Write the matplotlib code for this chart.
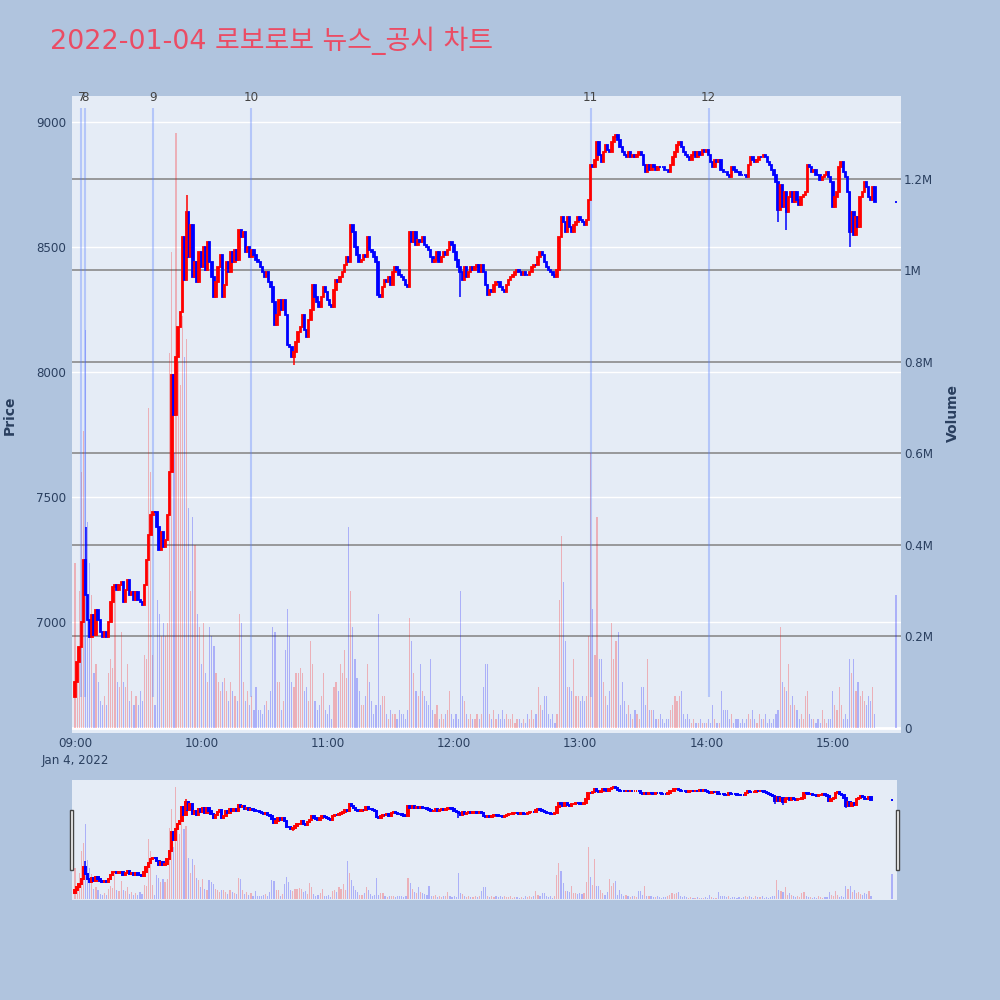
import numpy as np
import matplotlib
matplotlib.use('Agg')
import matplotlib.pyplot as plt
from matplotlib.patches import Rectangle

plt.rcParams['font.family'] = ['DejaVu Sans', 'Noto Sans CJK KR']

title = '2022-01-04 로보로보 뉴스_공시 차트'

# 1분봉 종가 (09:00 부터)
first_open = 6700
close_price = [
    6760, 6840, 6900, 7000, 7250, 7110, 7010, 6940, 7030, 6950,
    7050, 7010, 6960, 6940, 6960, 6940, 7000, 7080, 7140, 7150,
    7130, 7150, 7160, 7080, 7130, 7170, 7110, 7120, 7090, 7120,
    7090, 7080, 7070, 7150, 7250, 7350, 7430, 7440, 7440, 7380,
    7290, 7360, 7300, 7330, 7430, 7600, 7990, 7830, 8060, 8180,
    8240, 8540, 8370, 8640, 8460, 8590, 8380, 8440, 8360, 8480,
    8420, 8500, 8410, 8520, 8440, 8380, 8300, 8360, 8420, 8470,
    8300, 8350, 8440, 8400, 8480, 8440, 8490, 8450, 8570, 8540,
    8560, 8480, 8500, 8460, 8490, 8470, 8450, 8440, 8420, 8400,
    8380, 8400, 8360, 8340, 8280, 8190, 8230, 8290, 8250, 8290,
    8230, 8110, 8100, 8060, 8080, 8120, 8160, 8180, 8230, 8170,
    8140, 8210, 8250, 8350, 8300, 8280, 8260, 8300, 8340, 8320,
    8290, 8270, 8260, 8330, 8370, 8360, 8380, 8400, 8430, 8460,
    8440, 8590, 8560, 8500, 8470, 8440, 8450, 8470, 8460, 8540,
    8490, 8480, 8460, 8440, 8310, 8300, 8340, 8370, 8360, 8380,
    8350, 8400, 8420, 8410, 8390, 8380, 8370, 8350, 8340, 8560,
    8520, 8560, 8510, 8530, 8520, 8540, 8510, 8500, 8490, 8460,
    8440, 8450, 8480, 8440, 8460, 8480, 8470, 8490, 8520, 8510,
    8480, 8450, 8420, 8400, 8370, 8420, 8380, 8400, 8420, 8410,
    8420, 8430, 8400, 8430, 8400, 8350, 8310, 8330, 8320, 8350,
    8360, 8360, 8340, 8330, 8320, 8350, 8370, 8380, 8390, 8400,
    8410, 8400, 8390, 8400, 8390, 8390, 8400, 8420, 8430, 8430,
    8460, 8480, 8470, 8440, 8420, 8410, 8400, 8390, 8380, 8410,
    8540, 8620, 8600, 8560, 8620, 8580, 8560, 8590, 8600, 8620,
    8610, 8600, 8590, 8610, 8690, 8830, 8820, 8850, 8920, 8870,
    8840, 8880, 8910, 8890, 8880, 8920, 8940, 8950, 8930, 8900,
    8880, 8870, 8860, 8880, 8860, 8870, 8860, 8870, 8880, 8870,
    8830, 8800, 8830, 8810, 8830, 8820, 8810, 8820, 8820, 8820,
    8810, 8810, 8800, 8830, 8860, 8880, 8910, 8920, 8900, 8880,
    8870, 8860, 8850, 8870, 8880, 8860, 8880, 8870, 8890, 8880,
    8890, 8870, 8840, 8820, 8850, 8840, 8850, 8810, 8800, 8800,
    8790, 8780, 8820, 8810, 8800, 8800, 8790, 8790, 8790, 8780,
    8830, 8860, 8850, 8840, 8850, 8860, 8860, 8870, 8860, 8840,
    8830, 8810, 8790, 8760, 8650, 8750, 8660, 8720, 8640, 8700,
    8720, 8680, 8720, 8690, 8670, 8700, 8710, 8720, 8830, 8820,
    8800, 8810, 8790, 8790, 8770, 8780, 8790, 8800, 8780, 8760,
    8660, 8700, 8720, 8820, 8840, 8800, 8780, 8720, 8560, 8640,
    8550, 8620, 8580, 8700, 8720, 8760, 8740, 8700, 8690, 8740,
    8680,
]

# 거래량 (백만주)
volume_m = [
    0.36, 0.17, 0.30, 0.56, 0.65, 0.87, 0.45, 0.36, 0.29, 0.12,
    0.14, 0.10, 0.06, 0.05, 0.07, 0.05, 0.12, 0.15, 0.13, 0.30,
    0.10, 0.09, 0.21, 0.10, 0.09, 0.14, 0.06, 0.08, 0.05, 0.07,
    0.05, 0.08, 0.06, 0.16, 0.15, 0.70, 0.56, 0.16, 0.05, 0.28,
    0.25, 0.20, 0.23, 0.20, 0.23, 0.82, 1.04, 0.60, 1.30, 0.80,
    0.75, 0.90, 0.81, 0.85, 0.48, 0.30, 0.46, 0.40, 0.25, 0.22,
    0.14, 0.23, 0.12, 0.10, 0.22, 0.20, 0.18, 0.12, 0.10, 0.08,
    0.10, 0.11, 0.08, 0.06, 0.10, 0.08, 0.07, 0.06, 0.25, 0.23,
    0.10, 0.06, 0.08, 0.05, 0.07, 0.04, 0.09, 0.04, 0.04, 0.03,
    0.05, 0.06, 0.04, 0.08, 0.22, 0.21, 0.10, 0.10, 0.04, 0.06,
    0.17, 0.26, 0.20, 0.10, 0.09, 0.12, 0.12, 0.13, 0.12, 0.08,
    0.09, 0.06, 0.19, 0.14, 0.06, 0.04, 0.05, 0.07, 0.12, 0.04,
    0.03, 0.05, 0.02, 0.09, 0.10, 0.08, 0.14, 0.12, 0.17, 0.11,
    0.44, 0.30, 0.22, 0.15, 0.11, 0.08, 0.05, 0.05, 0.07, 0.14,
    0.10, 0.06, 0.03, 0.05, 0.25, 0.05, 0.07, 0.07, 0.03, 0.02,
    0.04, 0.03, 0.03, 0.02, 0.04, 0.03, 0.03, 0.02, 0.04, 0.24,
    0.19, 0.12, 0.08, 0.07, 0.14, 0.08, 0.07, 0.06, 0.05, 0.15,
    0.04, 0.03, 0.05, 0.02, 0.03, 0.02, 0.03, 0.04, 0.08, 0.03,
    0.02, 0.03, 0.02, 0.30, 0.07, 0.06, 0.03, 0.02, 0.03, 0.02,
    0.02, 0.03, 0.02, 0.03, 0.09, 0.14, 0.14, 0.03, 0.02, 0.04,
    0.02, 0.03, 0.02, 0.04, 0.02, 0.03, 0.02, 0.02, 0.03, 0.01,
    0.02, 0.02, 0.01, 0.02, 0.01, 0.03, 0.02, 0.04, 0.02, 0.03,
    0.09, 0.05, 0.04, 0.07, 0.07, 0.03, 0.02, 0.03, 0.01, 0.03,
    0.28, 0.42, 0.32, 0.19, 0.09, 0.09, 0.08, 0.15, 0.07, 0.07,
    0.06, 0.07, 0.06, 0.07, 0.20, 0.60, 0.26, 0.16, 0.46, 0.15,
    0.15, 0.10, 0.07, 0.05, 0.08, 0.23, 0.15, 0.19, 0.21, 0.05,
    0.10, 0.06, 0.03, 0.05, 0.03, 0.02, 0.04, 0.03, 0.02, 0.09,
    0.09, 0.05, 0.15, 0.04, 0.04, 0.04, 0.02, 0.02, 0.03, 0.02,
    0.01, 0.02, 0.02, 0.04, 0.05, 0.07, 0.06, 0.07, 0.08, 0.03,
    0.02, 0.03, 0.02, 0.01, 0.02, 0.01, 0.01, 0.02, 0.01, 0.01,
    0.01, 0.02, 0.01, 0.05, 0.02, 0.01, 0.01, 0.08, 0.04, 0.04,
    0.04, 0.02, 0.03, 0.01, 0.02, 0.02, 0.01, 0.02, 0.01, 0.02,
    0.03, 0.02, 0.04, 0.02, 0.01, 0.03, 0.02, 0.02, 0.03, 0.01,
    0.02, 0.01, 0.02, 0.03, 0.04, 0.22, 0.10, 0.09, 0.08, 0.14,
    0.05, 0.07, 0.05, 0.04, 0.02, 0.03, 0.02, 0.07, 0.08, 0.03,
    0.02, 0.02, 0.01, 0.02, 0.01, 0.04, 0.02, 0.01, 0.02, 0.02,
    0.08, 0.05, 0.04, 0.09, 0.05, 0.02, 0.03, 0.02, 0.15, 0.12,
    0.15, 0.08, 0.10, 0.07, 0.08, 0.06, 0.05, 0.07, 0.06, 0.09,
    0.03,
]

# 15:30 동시호가
auction_minute = 390
auction_price = 8680
auction_volume = 0.29

# 눈에 띄는 꼬리
wick_minute = [5, 53, 104, 183, 334, 338, 368]
wick_low = [7110, 8460, 8030, 8300, 8600, 8570, 8500]
wick_high = [7380, 8710, 8080, 8400, 8760, 8720, 8720]

# 뉴스/공시 시점
news_labels = ['7', '8', '9', '10', '11', '12']
news_minute = [3.0, 4.6, 37, 83.5, 245, 301]

time_labels = ['09:00\nJan 4, 2022', '10:00', '11:00', '12:00', '13:00', '14:00', '15:00']
time_ticks = [0, 60, 120, 180, 240, 300, 360]
price_ticks = [7000, 7500, 8000, 8500, 9000]
vol_ticks = [0, 0.2, 0.4, 0.6, 0.8, 1.0, 1.2]
vol_labels = ['0', '0.2M', '0.4M', '0.6M', '0.8M', '1M', '1.2M']

minutes = np.append(np.arange(len(close_price)), auction_minute)
closes = np.append(close_price, auction_price)
opens = np.append([first_open], close_price)
opens[-1] = auction_price
vols = np.append(volume_m, auction_volume)
up = closes > opens
candle_col = np.where(up, '#FF0000', '#0000FF')
vol_col = [(1, 0, 0, 0.25) if u else (0, 0, 1, 0.25) for u in up]

PRICE_LIM = (6556, 9104)
VOL_LIM = (-0.011, 1.381)
X_LIM = (-1.43, 392.4)
TXT = '#2a3f5f'
BG = '#E5ECF6'


def price_to_vol(p):
    return VOL_LIM[0] + (p - PRICE_LIM[0]) / (PRICE_LIM[1] - PRICE_LIM[0]) * (VOL_LIM[1] - VOL_LIM[0])


def draw(axp, axv, lw):
    axv.set_facecolor(BG)
    axp.set_zorder(axv.get_zorder() + 1)
    axp.patch.set_visible(False)
    axv.bar(minutes, vols, width=0.55, color=vol_col, linewidth=0)
    heights = closes - opens
    axp.bar(minutes, heights, bottom=opens, width=0.7, color=candle_col,
            edgecolor=candle_col, linewidth=lw, zorder=3)
    wc = [candle_col[m] for m in wick_minute]
    axp.vlines(wick_minute, wick_low, wick_high, colors=wc, linewidth=1.1, zorder=3)
    for a in (axp, axv):
        a.set_xlim(*X_LIM)
        for s in a.spines.values():
            s.set_visible(False)
    axp.set_ylim(*PRICE_LIM)
    axv.set_ylim(*VOL_LIM)


fig = plt.figure(figsize=(10, 10), dpi=100, facecolor='#B0C4DE')

# 메인 차트
axv = fig.add_axes([0.072, 0.267, 0.829, 0.637])
axp = axv.twinx()
axp.yaxis.tick_left()
axv.yaxis.tick_right()
for p in price_ticks:
    axv.axhline(price_to_vol(p), color='white', linewidth=1, zorder=0)
for v in vol_ticks[1:]:
    axv.axhline(v, color='#8a8a8a', linewidth=1.2, zorder=0.5)
axv.axhline(0, color='white', linewidth=2, zorder=0.5)
draw(axp, axv, 1.3)

for lab, m in zip(news_labels, news_minute):
    axp.vlines(m, 6700, 9055, colors=(0.35, 0.5, 1.0, 0.35), linewidth=1.5, zorder=2)
    axp.text(m, 9098, lab, ha='center', va='center', fontsize=8.6, color='#444444',
             clip_on=False)

axp.set_yticks(price_ticks)
axp.set_yticklabels([str(p) for p in price_ticks])
axp.tick_params(axis='y', length=0, pad=4, labelsize=8.6, labelcolor=TXT,
                left=False, right=False, labelleft=True, labelright=False)
axv.set_yticks(vol_ticks)
axv.set_yticklabels(vol_labels)
axv.tick_params(axis='y', length=0, pad=2, labelsize=8.6, labelcolor=TXT)
axv.set_xticks(time_ticks)
axv.set_xticklabels(time_labels, linespacing=1.35)
axv.tick_params(axis='x', length=0, pad=3, labelsize=8.6, labelcolor=TXT)
axp.tick_params(axis='x', bottom=False, labelbottom=False)

# 레인지 슬라이더
sv = fig.add_axes([0.072, 0.100, 0.825, 0.120])
sp = sv.twinx()
draw(sp, sv, 1.4)
for a in (sv, sp):
    a.set_xticks([])
    a.set_yticks([])
for hx in (0.0695, 0.8955):
    fig.patches.append(Rectangle((hx, 0.130), 0.0035, 0.060, transform=fig.transFigure,
                                 facecolor='white', edgecolor='#444444', linewidth=1))

fig.text(0.050, 0.959, title, fontsize=19.4, color='#EB4C64', ha='left', va='center')
fig.text(0.010, 0.585, 'Price', rotation=90, fontsize=10, fontweight='bold',
         color=TXT, ha='center', va='center')
fig.text(0.953, 0.587, 'Volume', rotation=90, fontsize=10, fontweight='bold',
         color=TXT, ha='center', va='center')

fig.savefig('out.png', dpi=100, facecolor=fig.get_facecolor())
